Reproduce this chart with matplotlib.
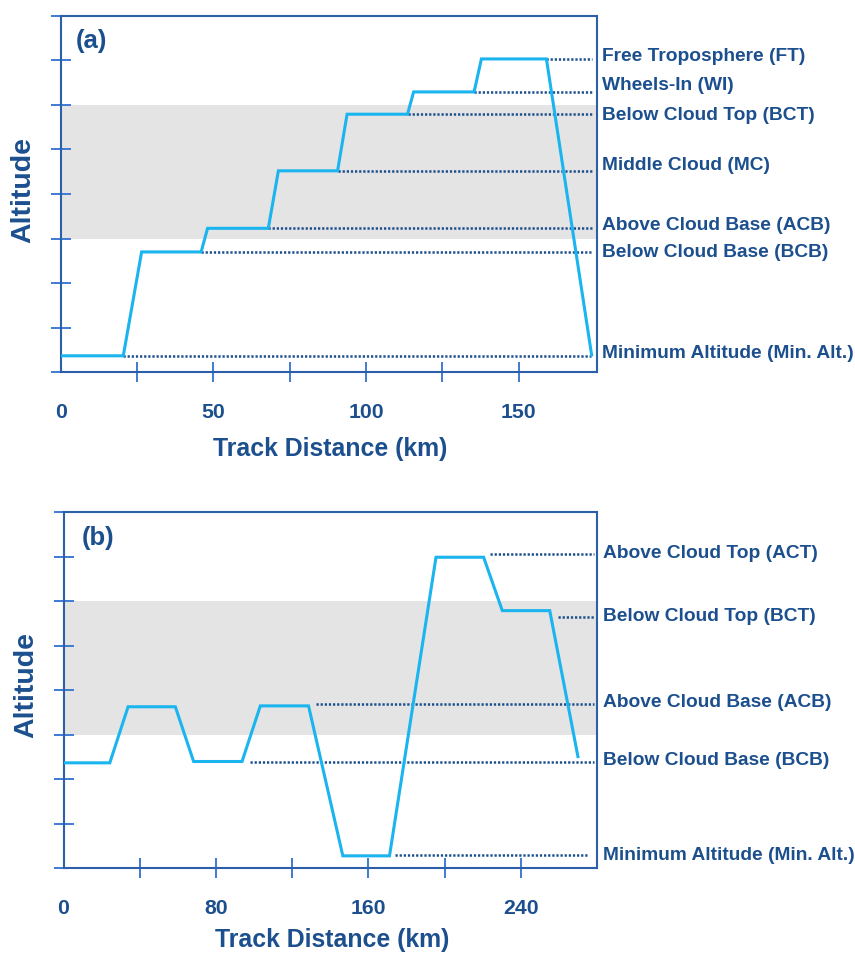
import matplotlib
matplotlib.use("Agg")
import matplotlib.pyplot as plt
import matplotlib.transforms as mtransforms

plt.rcParams['font.family'] = ['Liberation Sans', 'DejaVu Sans']
plt.rcParams['font.weight'] = 'bold'

# ---- Panel (a): stepped profile ----
dist_a = [0, 20.5, 26.5, 46.0, 48.1, 68.0, 71.3, 90.7, 93.8, 113.6, 115.6, 135.4, 137.8, 159.1, 173.9]
alt_a = [0.37, 0.37, 2.70, 2.70, 3.23, 3.23, 4.52, 4.52, 5.79, 5.79, 6.29, 6.29, 7.03, 7.03, 0.39]

ref_names_a = ["Free Troposphere (FT)", "Wheels-In (WI)", "Below Cloud Top (BCT)",
               "Middle Cloud (MC)", "Above Cloud Base (ACB)", "Below Cloud Base (BCB)",
               "Minimum Altitude (Min. Alt.)"]
ref_level_a = [7.03, 6.29, 5.79, 4.52, 3.23, 2.70, 0.37]
ref_start_a = [159.1, 135.4, 113.6, 90.7, 68.0, 46.0, 20.5]
ref_end_a = [174.0, 174.0, 174.0, 174.0, 174.0, 174.0, 173.6]
label_y_a = [7.09, 6.43, 5.76, 4.64, 3.29, 2.69, 0.42]

# ---- Panel (b): up/down profile ----
dist_b = [0, 24.3, 33.9, 58.7, 68.3, 93.7, 103.3, 128.6, 146.6, 171.1, 195.5, 220.5, 230.3, 255.2, 270.0]
alt_b = [2.37, 2.37, 3.63, 3.63, 2.40, 2.40, 3.65, 3.65, 0.28, 0.28, 6.99, 6.99, 5.79, 5.79, 2.51]

ref_names_b = ["Above Cloud Top (ACT)", "Below Cloud Top (BCT)", "Above Cloud Base (ACB)",
               "Below Cloud Base (BCB)", "Minimum Altitude (Min. Alt.)"]
ref_level_b = [7.06, 5.64, 3.69, 2.40, 0.30]
ref_start_b = [223.7, 259.3, 132.3, 97.7, 173.9]
ref_end_b = [278.5, 278.5, 278.5, 278.5, 274.6]
label_y_b = [7.08, 5.66, 3.73, 2.43, 0.29]

cloud_base, cloud_top = 3, 6

NAVY = '#1c4f8e'
SPINE = '#2d5ea8'
TICK = '#3d7bd4'
CYAN = '#1ab4ef'
BAND = '#e4e4e4'

W, H = 855, 958
fig = plt.figure(figsize=(W / 100, H / 100), dpi=100)


def add_axes(left, right, top, bottom):
    return fig.add_axes([left / W, 1 - bottom / H, (right - left) / W, (bottom - top) / H])


ax_a = add_axes(60.7, 596.5, 15.7, 372.3)
ax_b = add_axes(63.5, 597.0, 512.3, 868.3)


def style_axes(ax, xmax, major, minor, tag, tag_x, tag_y):
    ax.set_xlim(0, xmax)
    ax.set_ylim(0, 8)
    ax.axhspan(cloud_base, cloud_top, color=BAND, zorder=0, lw=0)
    for s in ax.spines.values():
        s.set_color(SPINE)
        s.set_linewidth(1.5)
    ax.set_yticks(range(0, 9))
    ax.set_yticklabels([])
    ax.set_xticks(major)
    ax.set_xticks(minor, minor=True)
    ax.set_xticklabels([str(v) for v in major])
    ax.tick_params(axis='both', which='both', direction='inout', length=14.5,
                   width=1.4, color=TICK)
    ax.tick_params(axis='x', which='both', pad=14.8, labelsize=15.3,
                   labelcolor=NAVY)
    ax.xaxis.get_major_ticks()[0].tick1line.set_visible(False)
    for lab in ax.get_xticklabels():
        lab.set_fontweight('bold')
    ax.text(tag_x, tag_y, tag, transform=ax.transAxes, ha='left', va='center',
            fontsize=18.5, fontweight='bold', color=NAVY)


style_axes(ax_a, 175.5, [0, 50, 100, 150], [25, 75, 125], '(a)', 0.029, 0.930)
style_axes(ax_b, 280.0, [0, 80, 160, 240], [40, 120, 200], '(b)', 0.035, 0.927)


def draw_profile(ax, dist, alt, names, levels, starts, ends, label_y, label_x):
    for lvl, x0, x1 in zip(levels, starts, ends):
        ax.plot([x0, x1], [lvl, lvl], color=NAVY, lw=1.8, dashes=(0.9, 0.75),
                solid_capstyle='butt', dash_capstyle='butt', zorder=2)
    ax.plot(dist, alt, color=CYAN, lw=2.2, zorder=3, solid_joinstyle='miter')
    trans = mtransforms.blended_transform_factory(ax.transAxes, ax.transData)
    for name, ly in zip(names, label_y):
        ax.text(label_x, ly, name, transform=trans, ha='left', va='center',
                fontsize=13.8, fontweight='bold', color=NAVY, clip_on=False)


draw_profile(ax_a, dist_a, alt_a, ref_names_a, ref_level_a, ref_start_a, ref_end_a,
             label_y_a, 1.0095)
draw_profile(ax_b, dist_b, alt_b, ref_names_b, ref_level_b, ref_start_b, ref_end_b,
             label_y_b, 1.012)

# axis titles
for (cx, cy) in [(23.5, 190), (26, 685)]:
    fig.text(cx / W, 1 - cy / H, "Altitude", rotation=90, ha='center', va='center',
             fontsize=20.5, fontweight='bold', color=NAVY)
for (cx, cy) in [(330, 449), (331.7, 940)]:
    fig.text(cx / W, 1 - cy / H, "Track Distance (km)", ha='center', va='center',
             fontsize=17.9, fontweight='bold', color=NAVY)

fig.savefig("out.png", dpi=100, facecolor='white')
